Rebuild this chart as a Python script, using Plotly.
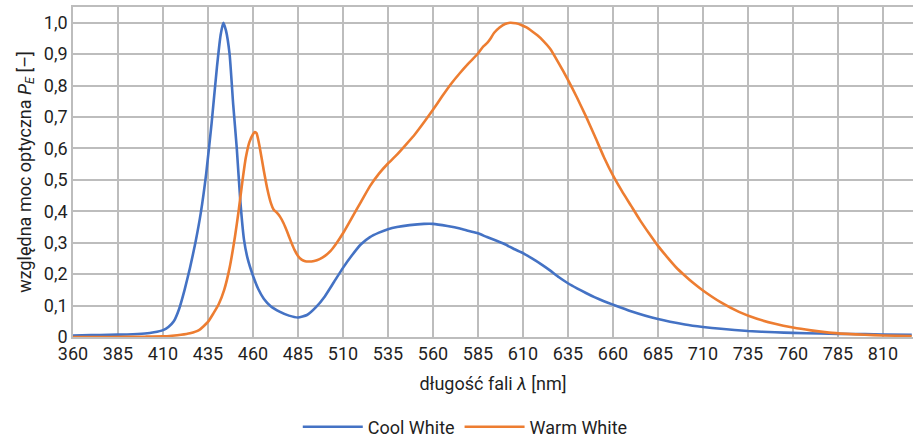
import plotly.graph_objects as go

# Relative optical power spectra of two LED sources
wl_cool = [360, 370, 380, 390, 400, 405, 410, 413, 416, 419, 422, 425, 428, 431, 434,
           437, 440, 442, 443.5, 445, 447, 449, 451, 453, 455, 457, 460, 463, 466, 470,
           475, 480, 485, 490, 495, 500, 505, 510, 515, 520, 525, 530, 535, 540, 547,
           555, 560, 568, 575, 580, 585, 590, 595, 600, 605, 610, 615, 620, 625, 630,
           635, 640, 645, 650, 655, 660, 670, 685, 700, 710, 720, 735, 750, 760, 775,
           785, 800, 810, 826]
pe_cool = [0.005, 0.006, 0.007, 0.008, 0.011, 0.015, 0.022, 0.032, 0.05, 0.09, 0.15, 0.22,
           0.30, 0.395, 0.52, 0.68, 0.86, 0.96, 1.0, 0.975, 0.90, 0.74, 0.60, 0.43, 0.31,
           0.25, 0.195, 0.152, 0.122, 0.097, 0.08, 0.068, 0.062, 0.07, 0.095, 0.13, 0.175,
           0.22, 0.26, 0.295, 0.318, 0.332, 0.343, 0.35, 0.356, 0.36, 0.36, 0.353, 0.345,
           0.337, 0.33, 0.318, 0.307, 0.295, 0.28, 0.267, 0.25, 0.232, 0.212, 0.19, 0.171,
           0.155, 0.14, 0.126, 0.114, 0.103, 0.082, 0.057, 0.04, 0.032, 0.026, 0.019,
           0.015, 0.013, 0.011, 0.01, 0.009, 0.008, 0.007]

wl_warm = [360, 380, 400, 410, 415, 420, 425, 430, 435, 438, 441, 444, 447, 450, 452, 454,
           456, 458, 460, 461, 462, 463, 464, 466, 468, 470, 471.5, 473, 475, 477, 479,
           481, 483, 485, 487, 489, 491, 494, 497, 500, 503, 506, 510, 515, 520, 525, 530,
           535, 540, 545, 550, 555, 560, 565, 570, 575, 580, 585, 588, 590, 592, 594, 597,
           600, 603, 606, 609, 612, 615, 618, 621, 625, 630, 635, 640, 645, 650,
           655, 660, 665, 670, 675, 680, 685, 690, 695, 700, 705, 710, 720, 730, 740, 750,
           760, 770, 780, 790, 800, 810, 826]
pe_warm = [0.0, 0.0, 0.001, 0.002, 0.004, 0.007, 0.012, 0.022, 0.048, 0.075, 0.105, 0.15,
           0.22, 0.32, 0.40, 0.49, 0.57, 0.62, 0.645, 0.652, 0.648, 0.625, 0.595, 0.53,
           0.47, 0.425, 0.405, 0.397, 0.383, 0.362, 0.335, 0.305, 0.278, 0.258, 0.246,
           0.241, 0.24, 0.242, 0.248, 0.258, 0.273, 0.295, 0.33, 0.38, 0.43, 0.48, 0.52,
           0.552, 0.58, 0.612, 0.645, 0.683, 0.723, 0.765, 0.805, 0.84, 0.872, 0.902,
           0.925, 0.935, 0.95, 0.968, 0.985, 0.996, 1.0, 0.998, 0.993, 0.985,
           0.973, 0.96, 0.944, 0.918, 0.87, 0.818, 0.762, 0.702, 0.638, 0.572, 0.514, 0.464,
           0.418, 0.372, 0.33, 0.29, 0.255, 0.222, 0.195, 0.17, 0.148, 0.11, 0.08, 0.058,
           0.042, 0.03, 0.021, 0.014, 0.01, 0.007, 0.005, 0.003]

x_ticks = list(range(360, 811, 25))
y_ticks = [0, 0.1, 0.2, 0.3, 0.4, 0.5, 0.6, 0.7, 0.8, 0.9, 1.0]
y_tick_labels = ["0", "0,1", "0,2", "0,3", "0,4", "0,5", "0,6", "0,7", "0,8", "0,9", "1,0"]

FONT = "Roboto"
TXT = "#1f1f1f"
GRID = "#bdbdbd"
FS = 18

fig = go.Figure()
fig.add_trace(go.Scatter(x=wl_cool, y=pe_cool, mode="lines", name="Cool White",
                         line=dict(color="#4472C4", width=2.6, shape="spline", smoothing=0.5)))
fig.add_trace(go.Scatter(x=wl_warm, y=pe_warm, mode="lines", name="Warm White",
                         line=dict(color="#ED7D31", width=2.6, shape="spline", smoothing=0.5)))

fig.update_layout(
    width=913, height=438,
    margin=dict(l=73, r=0, t=7, b=101, autoexpand=False),
    paper_bgcolor="white", plot_bgcolor="white",
    font=dict(family=FONT, size=FS, color=TXT),
    showlegend=True,
    legend=dict(orientation="h", x=0.467, xanchor="center",
                yref="container", y=0.025, yanchor="middle",
                font=dict(family=FONT, size=FS, color=TXT), itemwidth=60),
)
fig.update_xaxes(
    range=[360, 826.7], tickvals=x_ticks, ticktext=[str(v) for v in x_ticks],
    showgrid=True, gridcolor=GRID, gridwidth=1.6,
    showline=True, linecolor=GRID, linewidth=1.6, mirror=True,
    zeroline=False, ticks="", tickfont=dict(family=FONT, size=FS, color=TXT),
    automargin=False,
    title=dict(text="długość fali <i>λ</i> [nm]", standoff=14,
               font=dict(family=FONT, size=FS, color=TXT)),
)
fig.update_yaxes(
    range=[0, 1.05], tickvals=y_ticks, ticktext=y_tick_labels,
    showgrid=True, gridcolor=GRID, gridwidth=1.6,
    showline=True, linecolor=GRID, linewidth=1.6, mirror=True,
    zeroline=False, ticks="", tickfont=dict(family=FONT, size=FS, color=TXT),
    automargin=False,
    title=dict(text="względna moc optyczna <i>P</i><sub><i>E</i></sub> [–]", standoff=8,
               font=dict(family=FONT, size=FS, color=TXT)),
)

fig.write_html("out.html")
